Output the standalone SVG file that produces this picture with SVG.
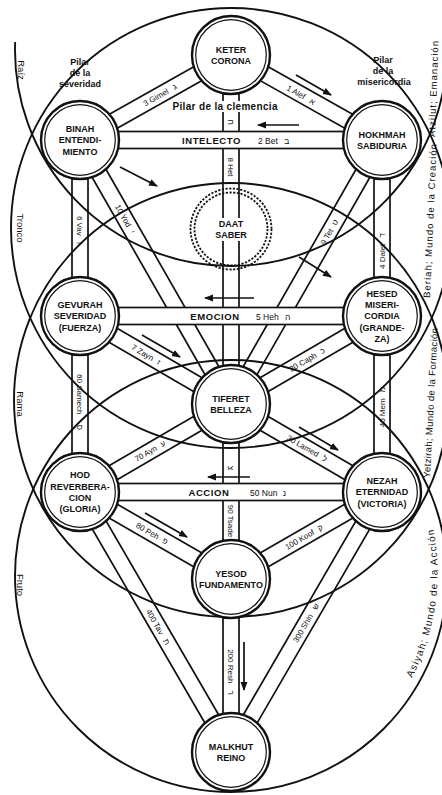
<svg xmlns="http://www.w3.org/2000/svg" width="442" height="795" viewBox="0 0 442 795">
<defs>
<style>
text{font-family:"Liberation Sans","DejaVu Sans",sans-serif;fill:#111}
.big{fill:none;stroke:#111;stroke-width:1.9}
.ln{stroke:#111;stroke-width:1.7;fill:none}
.bar{fill:#fff;stroke:#111;stroke-width:1.7}
.o{fill:#fff;stroke:#111;stroke-width:2.4}
.i{fill:none;stroke:#111;stroke-width:1.2}
.dsh{fill:none;stroke:#111;stroke-width:1.8;stroke-dasharray:2.2 1.5}
.arr{fill:none;stroke:#111;stroke-width:1.7;marker-end:url(#ah)}
.nt{font-weight:bold;font-size:9px;text-anchor:middle}
.bt{font-weight:bold;font-size:9.5px;letter-spacing:0.6px;text-anchor:middle}
.bn{font-size:8.5px}
.cl{font-size:8px;text-anchor:middle}
.pl{font-weight:bold;font-size:9px;text-anchor:middle}
.wl{font-size:9.5px}
</style>
<marker id="ah" markerUnits="userSpaceOnUse" markerWidth="9" markerHeight="8" refX="8" refY="4" orient="auto" viewBox="0 0 9 8"><path d="M0,0.5 L9,4 L0,7.5 z" fill="#111"/></marker>
<path id="pAs" d="M412 678 A229.7 229.7 0 0 0 433.6 530"/>
</defs>
<rect width="442" height="795" fill="#fff"/>

<g id="worlds">
<path class="big" d="M15.15 42 A216 216 0 1 0 446.85 42"/>
<circle class="big" cx="231" cy="228" r="220"/>
<circle class="big" cx="231" cy="400" r="217"/>
<circle class="big" cx="231" cy="576" r="216"/>
</g>

<g id="connectors">
<path class="ln" d="M223 55 V752 M239 55 V752"/>
<path class="ln" d="M72 140 V492 M88 140 V492 M374 140 V492 M390 140 V492"/>
<path class="ln" d="M234.92 61.97 L83.92 146.97 M227.08 48.03 L76.08 133.03"/>
<path class="ln" d="M227.08 61.97 L378.08 146.97 M234.92 48.03 L385.92 133.03"/>
<path class="ln" d="M86.94 136.03 L237.94 400.03 M73.06 143.97 L224.06 407.97"/>
<path class="ln" d="M388.94 143.97 L237.94 407.97 M375.06 136.03 L224.06 400.03"/>
<path class="ln" d="M84.03 309.09 L235.03 397.09 M75.97 322.91 L226.97 410.91"/>
<path class="ln" d="M386.03 322.91 L235.03 410.91 M377.97 309.09 L226.97 397.09"/>
<path class="ln" d="M84.03 498.91 L235.03 410.91 M75.97 485.09 L226.97 397.09"/>
<path class="ln" d="M377.97 498.91 L226.97 410.91 M386.03 485.09 L235.03 397.09"/>
<path class="ln" d="M83.99 485.07 L234.99 572.07 M76.01 498.93 L227.01 585.93"/>
<path class="ln" d="M385.99 498.93 L234.99 585.93 M378.01 485.07 L227.01 572.07"/>
<path class="ln" d="M86.92 487.98 L237.92 747.98 M73.08 496.02 L224.08 756.02"/>
<path class="ln" d="M388.92 496.02 L237.92 756.02 M375.08 487.98 L224.08 747.98"/>
<rect class="bar" x="80" y="131.5" width="302" height="17"/>
<rect class="bar" x="80" y="307.5" width="302" height="17"/>
<rect class="bar" x="80" y="483.5" width="302" height="17"/>
</g>

<g id="arrows">
<path class="arr" d="M296 75 L331 95"/>
<path class="arr" d="M299 125 L258 125"/>
<path class="arr" d="M120 167 L157 186"/>
<path class="arr" d="M299 257 L331 277"/>
<path class="arr" d="M254 298 L205 298"/>
<path class="arr" d="M142 335 L180 357"/>
<path class="arr" d="M299 427 L338 450"/>
<path class="arr" d="M250 477 L208 477"/>
<path class="arr" d="M145 513 L187 537"/>
<path class="arr" d="M244 642 L244 690"/>
</g>

<g id="pillars">
<rect x="172" y="101" width="108" height="11" fill="#fff"/>
<text x="225" y="110" font-weight="bold" font-size="10" text-anchor="middle" textLength="105">Pilar de la clemencia</text>
<text class="pl" x="80" y="65">Pilar</text>
<text class="pl" x="80" y="76">de la</text>
<text class="pl" x="80" y="87">severidad</text>
<text class="pl" x="383" y="63">Pilar</text>
<text class="pl" x="383" y="74">de la</text>
<text class="pl" x="384" y="85">misericordia</text>
</g>

<g id="bar-labels">
<text class="bt" x="211.5" y="144">INTELECTO</text>
<text class="bn" x="258" y="144">2 Bet <tspan dx="4">ב</tspan></text>
<text class="bt" x="215" y="320">EMOCION</text>
<text class="bn" x="256" y="320">5 Heh <tspan dx="4">ה</tspan></text>
<text class="bt" x="209" y="496">ACCION</text>
<text class="bn" x="250" y="496">50 Nun <tspan dx="3">נ</tspan></text>
</g>

<g id="path-labels">
<text class="cl" dy="2.8" transform="translate(160,95) rotate(-29.4)">3 Gimel <tspan dx="4">ג</tspan></text>
<text class="cl" dy="2.8" transform="translate(301,95) rotate(29.4)">1 Alef <tspan dx="4">א</tspan></text>
<text class="cl" dy="2.8" transform="translate(125,219) rotate(60.2)">10 Yod <tspan dx="3">י</tspan></text>
<text class="cl" dy="2.8" transform="translate(329.4,232) rotate(-60.2)">9 Tet <tspan dx="3">ט</tspan></text>
<text class="cl" dy="2.8" transform="translate(80,230) rotate(90)">6 Vav <tspan dx="4">ו</tspan></text>
<text class="cl" dy="2.8" transform="translate(382,251) rotate(-90)">4 Dalet <tspan dx="4">ד</tspan></text>
<text class="cl" dy="2.8" transform="translate(231,122) rotate(90)">ח</text>
<text class="cl" dy="2.8" transform="translate(231,167) rotate(90)">8 Het</text>
<text class="cl" dy="2.8" transform="translate(146,354.5) rotate(30.2)">7 Zayn <tspan dx="3">ז</tspan></text>
<text class="cl" dy="2.8" transform="translate(307,359.7) rotate(-30.2)">20 Caph <tspan dx="3">כ</tspan></text>
<text class="cl" dy="2.8" transform="translate(80,402) rotate(90)">60 Samech <tspan dx="8">ס</tspan></text>
<text class="cl" dy="2.8" transform="translate(382,407) rotate(-90)">40 Mem <tspan dx="4">מ</tspan></text>
<text class="cl" dy="2.8" transform="translate(150,451) rotate(-30.2)">70 Ayn <tspan dx="3">ע</tspan></text>
<text class="cl" dy="2.8" transform="translate(307,448.3) rotate(30.2)">30 Lamed <tspan dx="3">ל</tspan></text>
<text class="cl" dy="2.8" transform="translate(231,468) rotate(90)">צ</text>
<text class="cl" dy="2.8" font-size="7.5" transform="translate(231,521) rotate(90)">90 Tsade</text>
<text class="cl" dy="2.8" transform="translate(152,533.5) rotate(29.9)">80 Peh <tspan dx="3">פ</tspan></text>
<text class="cl" dy="2.8" transform="translate(304,537) rotate(-29.9)">100 Koof <tspan dx="3">ק</tspan></text>
<text class="cl" dy="2.8" transform="translate(158,627) rotate(59.9)">400 Tav <tspan dx="4">ת</tspan></text>
<text class="cl" dy="2.8" transform="translate(306,623) rotate(-59.9)">300 Shin <tspan dx="4">ש</tspan></text>
<text class="cl" dy="2.8" transform="translate(231,672) rotate(90)">200 Resh <tspan dx="5">ר</tspan></text>
</g>

<g id="world-labels">
<text class="wl" text-anchor="middle" transform="translate(18,70) rotate(90)">Raíz</text>
<text class="wl" text-anchor="middle" transform="translate(17,228) rotate(90)">Tronco</text>
<text class="wl" text-anchor="middle" transform="translate(17,404) rotate(90)">Rama</text>
<text class="wl" text-anchor="middle" transform="translate(17,585) rotate(90)">Fruto</text>
<text class="wl" transform="translate(435,137) rotate(-88)" textLength="96">Atzilut; Emanación</text>
<text class="wl" transform="translate(430,298) rotate(-87.5)" textLength="154">Beriah; Mundo de la Creación</text>
<text class="wl" transform="translate(430,478) rotate(-87)" textLength="150">Yetzirah; Mundo de la Formación</text>
<text font-size="10" letter-spacing="1.2"><textPath href="#pAs">Asiyah; Mundo de la Acción</textPath></text>
</g>

<g id="keter"><circle class="o" cx="231" cy="55" r="39"/><circle class="i" cx="231" cy="55" r="35.3"/>
<text class="nt" x="231" y="52.6">KETER</text><text class="nt" x="231" y="63.9">CORONA</text></g>
<g id="binah"><circle class="o" cx="80" cy="140" r="39"/><circle class="i" cx="80" cy="140" r="35.3"/>
<text class="nt" x="80" y="132">BINAH</text><text class="nt" x="80" y="143.3">ENTENDI-</text><text class="nt" x="80" y="154.6">MIENTO</text></g>
<g id="hokhmah"><circle class="o" cx="382" cy="140" r="39"/><circle class="i" cx="382" cy="140" r="35.3"/>
<text class="nt" x="382" y="137.6">HOKHMAH</text><text class="nt" x="382" y="148.9">SABIDURIA</text></g>
<g id="daat"><circle class="dsh" cx="231" cy="229" r="40.5"/><circle class="dsh" cx="231" cy="229" r="36.5"/>
<rect x="213" y="218" width="36" height="23" fill="#fff"/>
<text class="nt" x="231" y="226.6">DAAT</text><text class="nt" x="231" y="237.9">SABER</text></g>
<g id="gevurah"><circle class="o" cx="80" cy="316" r="39"/><circle class="i" cx="80" cy="316" r="35.3"/>
<text class="nt" x="80" y="308">GEVURAH</text><text class="nt" x="80" y="319.3">SEVERIDAD</text><text class="nt" x="80" y="330.6">(FUERZA)</text></g>
<g id="hesed"><circle class="o" cx="382" cy="316" r="39"/><circle class="i" cx="382" cy="316" r="35.3"/>
<text class="nt" x="382" y="296.7">HESED</text><text class="nt" x="382" y="308">MISERI-</text><text class="nt" x="382" y="319.3">CORDIA</text><text class="nt" x="382" y="330.6">(GRANDE-</text><text class="nt" x="382" y="341.9">ZA)</text></g>
<g id="tiferet"><circle class="o" cx="231" cy="404" r="39"/><circle class="i" cx="231" cy="404" r="35.3"/>
<text class="nt" x="231" y="401.6">TIFERET</text><text class="nt" x="231" y="412.9">BELLEZA</text></g>
<g id="hod"><circle class="o" cx="80" cy="492" r="39"/><circle class="i" cx="80" cy="492" r="35.3"/>
<text class="nt" x="80" y="478.4">HOD</text><text class="nt" x="80" y="489.7">REVERBERA-</text><text class="nt" x="80" y="501">CION</text><text class="nt" x="80" y="512.3">(GLORIA)</text></g>
<g id="nezah"><circle class="o" cx="382" cy="492" r="39"/><circle class="i" cx="382" cy="492" r="35.3"/>
<text class="nt" x="382" y="484">NEZAH</text><text class="nt" x="382" y="495.3">ETERNIDAD</text><text class="nt" x="382" y="506.6">(VICTORIA)</text></g>
<g id="yesod"><circle class="o" cx="231" cy="579" r="39"/><circle class="i" cx="231" cy="579" r="35.3"/>
<text class="nt" x="231" y="576.6">YESOD</text><text class="nt" x="231" y="587.9">FUNDAMENTO</text></g>
<g id="malkhut"><circle class="o" cx="231" cy="752" r="39"/><circle class="i" cx="231" cy="752" r="35.3"/>
<text class="nt" x="231" y="749.6">MALKHUT</text><text class="nt" x="231" y="760.9">REINO</text></g>
</svg>
